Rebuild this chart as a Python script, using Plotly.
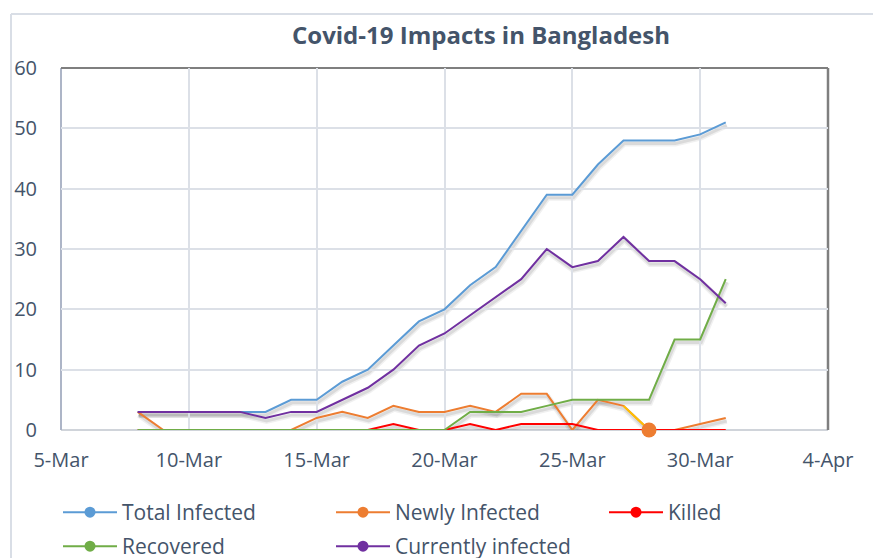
import plotly.graph_objects as go
import datetime as _dt

# ---- data ----
dates = ["2020-03-08", "2020-03-09", "2020-03-10", "2020-03-11", "2020-03-12", "2020-03-13",
         "2020-03-14", "2020-03-15", "2020-03-16", "2020-03-17", "2020-03-18", "2020-03-19",
         "2020-03-20", "2020-03-21", "2020-03-22", "2020-03-23", "2020-03-24", "2020-03-25",
         "2020-03-26", "2020-03-27", "2020-03-28", "2020-03-29", "2020-03-30", "2020-03-31"]
total_infected = [3, 3, 3, 3, 3, 3, 5, 5, 8, 10, 14, 18, 20, 24, 27, 33, 39, 39, 44, 48, 48, 48, 49, 51]
newly_infected = [3, 0, 0, 0, 0, 0, 0, 2, 3, 2, 4, 3, 3, 4, 3, 6, 6, 0, 5, 4, 0, 0, 1, 2]
killed = [0, 0, 0, 0, 0, 0, 0, 0, 0, 0, 1, 0, 0, 1, 0, 1, 1, 1, 0, 0, 0, 0, 0, 0]
recovered = [0, 0, 0, 0, 0, 0, 0, 0, 0, 0, 0, 0, 0, 3, 3, 3, 4, 5, 5, 5, 5, 15, 15, 25]
currently_infected = [3, 3, 3, 3, 3, 2, 3, 3, 5, 7, 10, 14, 16, 19, 22, 25, 30, 27, 28, 32, 28, 28, 25, 21]
series_names = ["Total Infected", "Newly Infected", "Killed", "Recovered", "Currently infected"]
series_values = [total_infected, newly_infected, killed, recovered, currently_infected]
highlight_date = "2020-03-28"   # formatted data point on "Newly Infected"

title_text = "Covid-19 Impacts in Bangladesh"
x_range = ["2020-03-05", "2020-04-04"]
y_range = [0, 60]

# ---- style ----
colors = ["#5B9BD5", "#ED7D31", "#FF0000", "#70AD47", "#7030A0"]
highlight_line = "#FFC000"
text_color = "#44546A"
grid_color = "#DCE0E7"
FONT = "Open Sans"

W, H = 873, 558
ML, MR, MT, MB = 61, 45, 68, 128
plot_w = W - ML - MR
plot_h = H - MT - MB

fig = go.Figure()

# shadows (drawn on an invisible axis pair whose range is offset by a few pixels)
x0 = _dt.datetime.fromisoformat(x_range[0])
x1 = _dt.datetime.fromisoformat(x_range[1])
px_dx = (x1 - x0) / plot_w
shadow_x_range = [x0 - px_dx * 1, x1 - px_dx * 1]
unit_per_px = (y_range[1] - y_range[0]) / plot_h
shadow_y_range = [y_range[0] + 3 * unit_per_px, y_range[1] + 3 * unit_per_px]

for vals in series_values:
    fig.add_trace(go.Scatter(x=dates, y=vals, mode="lines", xaxis="x", yaxis="y",
                             line=dict(color="rgba(0,0,0,0.06)", width=6), showlegend=False,
                             hoverinfo="skip"))
    fig.add_trace(go.Scatter(x=dates, y=vals, mode="lines", xaxis="x", yaxis="y",
                             line=dict(color="rgba(0,0,0,0.09)", width=3), showlegend=False,
                             hoverinfo="skip"))

# main lines
for name, vals, col in zip(series_names, series_values, colors):
    fig.add_trace(go.Scatter(x=dates, y=vals, mode="lines", xaxis="x2", yaxis="y2", name=name,
                             legendgroup=name, showlegend=False, cliponaxis=False,
                             line=dict(color=col, width=2)))

# highlighted segment + marker on Newly Infected
hi = dates.index(highlight_date)
fig.add_trace(go.Scatter(x=dates[hi - 1:hi + 1], y=newly_infected[hi - 1:hi + 1], mode="lines",
                         xaxis="x2", yaxis="y2", showlegend=False, legendgroup="Newly Infected",
                         cliponaxis=False, line=dict(color=highlight_line, width=2)))
fig.add_trace(go.Scatter(x=[dates[hi]], y=[newly_infected[hi]], mode="markers",
                         xaxis="x2", yaxis="y2", showlegend=False, legendgroup="Newly Infected",
                         marker=dict(color=colors[1], size=15, line=dict(width=0)),
                         cliponaxis=False))

# legend entries (line + marker symbol)
for i, (name, col) in enumerate(zip(series_names, colors)):
    fig.add_trace(go.Scatter(x=[None], y=[None], mode="lines+markers", name=name,
                             legendgroup=name, xaxis="x2", yaxis="y2",
                             legend="legend" if i < 3 else "legend2",
                             line=dict(color=col, width=2),
                             marker=dict(color=col, size=11, line=dict(width=0))))

axis_common = dict(showline=False, zeroline=False)
legend_common = dict(orientation="h", x=(58 - ML) / plot_w, xanchor="left", yref="paper",
                     yanchor="top", entrywidth=204, entrywidthmode="pixels", itemwidth=54,
                     bgcolor="rgba(0,0,0,0)", font=dict(size=21, color=text_color),
                     itemclick=False, itemdoubleclick=False)
fig.update_layout(
    width=W, height=H,
    margin=dict(l=ML, r=MR, t=MT, b=MB, autoexpand=False),
    paper_bgcolor="white", plot_bgcolor="rgba(0,0,0,0)",
    font=dict(family=FONT, color=text_color, size=20),
    title=dict(text=title_text, x=481 / W, xanchor="center", xref="container",
               y=1 - 36 / H, yanchor="middle", yref="container",
               font=dict(family=FONT, size=24, color=text_color, weight="bold")),
    xaxis=dict(domain=[0, 1], range=shadow_x_range, visible=False, anchor="y", type="date"),
    yaxis=dict(domain=[0, 1], range=shadow_y_range, visible=False, anchor="x"),
    xaxis2=dict(domain=[0, 1], range=x_range, anchor="y2", type="date",
                tick0="2020-03-05", dtick=5 * 86400000, tickformat="%-d-%b",
                showgrid=True, gridcolor=grid_color, gridwidth=1.5,
                ticks="", ticklabelstandoff=16,
                tickfont=dict(size=20, color=text_color), **axis_common),
    yaxis2=dict(domain=[0, 1], range=y_range, anchor="x2", dtick=10,
                showgrid=True, gridcolor=grid_color, gridwidth=1.5,
                ticks="", ticklabelstandoff=23,
                tickfont=dict(size=20, color=text_color), **axis_common),
    legend=dict(y=(H - MB - 492) / plot_h, **legend_common),
    legend2=dict(y=(H - MB - 526) / plot_h, **legend_common),
    shapes=[
        # chart area border
        dict(type="line", xref="paper", yref="paper", x0=(11 - ML) / plot_w, x1=(11 - ML) / plot_w,
             y0=(H - MB - 14) / plot_h, y1=(H - MB - H) / plot_h,
             line=dict(color="#D9DEE6", width=2)),
        dict(type="line", xref="paper", yref="paper", x0=(11 - ML) / plot_w, x1=(W - ML) / plot_w,
             y0=(H - MB - 14) / plot_h, y1=(H - MB - 14) / plot_h,
             line=dict(color="#D9DEE6", width=2)),
        # plot area border
        dict(type="line", xref="paper", yref="paper", x0=0, x1=1, y0=0, y1=0, layer="below",
             line=dict(color="#D0D4DA", width=2)),
        dict(type="line", xref="paper", yref="paper", x0=0, x1=0, y0=0, y1=1, layer="below",
             line=dict(color="#ADB5C7", width=2)),
        dict(type="line", xref="paper", yref="paper", x0=0, x1=1, y0=1, y1=1, layer="below",
             line=dict(color="#7F7F7F", width=2)),
        dict(type="line", xref="paper", yref="paper", x0=1, x1=1, y0=0, y1=1, layer="below",
             line=dict(color="#7F7F7F", width=2.5)),
    ],
)

fig.write_html("out.html", config={"displayModeBar": False},
               post_script="document.body.style.margin='0px';")
